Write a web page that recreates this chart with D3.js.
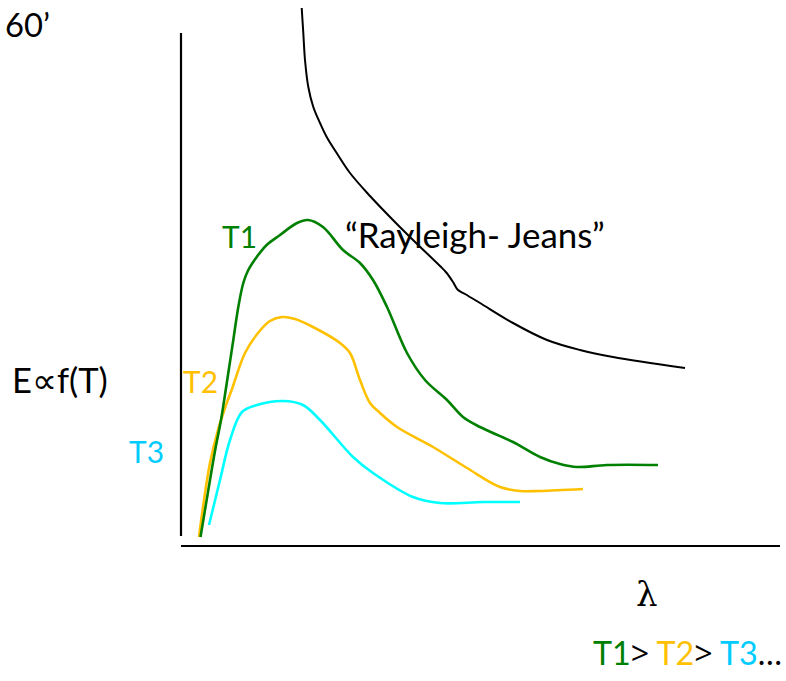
<!DOCTYPE html>
<html>
<head>
<meta charset="utf-8">
<script src="https://cdn.jsdelivr.net/npm/d3@7"></script>
<style>
  html, body { margin: 0; padding: 0; background: #fff; }
  svg { display: block; }
  text { font-family: Lato, "Noto Sans", sans-serif; }
</style>
</head>
<body>
<div id="chart"></div>
<script>
// ---- data (λ and E in chart units) ----
const seriesNames = ["T1", "T2", "T3", "Rayleigh- Jeans"];
const t1Lambda = [19.5, 27, 34, 40, 44.7, 47.3, 52.3, 57.3, 62.3, 67.3, 75.7, 85.7, 99, 116, 127, 142, 162, 179, 192, 206, 226, 244, 266, 282, 299, 332, 359, 379, 396, 426, 477];
const t1E      = [9, 54, 95, 126, 156, 173, 206, 239, 263, 276, 289, 301, 311, 323, 326, 319, 296, 283, 266, 239, 193, 166, 146, 129, 119, 104, 89, 82, 79, 81, 81];
const t2Lambda = [18, 23, 29, 37, 44, 51, 64, 77, 89, 101, 114, 132, 159, 169, 179, 189, 199, 216, 252, 286, 319, 339, 359, 402];
const t2E      = [9, 46, 83, 116, 138, 157, 193, 213, 225, 229, 227, 219, 203, 193, 166, 143, 133, 119, 99, 78, 59, 55, 55, 57];
const t3Lambda = [28, 39, 49, 61, 76, 102, 122, 139, 172, 192, 232, 259, 302, 339];
const t3E      = [21, 66, 106, 134, 141, 145, 141, 126, 89, 73, 49, 43, 44, 44];
const rjLambda = [120.7, 122.3, 124, 127.3, 132.3, 139, 145.7, 155.7, 169, 189, 209, 232, 259, 265.7, 272, 277, 284, 299, 332, 366, 399, 432, 504];
const rjE      = [538, 513, 486, 459, 439, 423, 409, 393, 373, 350, 329, 306, 280, 273, 264, 256, 252, 243, 223, 206, 196, 189, 178];
const orderLabel = ["T1", ">", " T2", ">", " T3", "…"];

const colors = { T1: "#008000", T2: "#FFC000", T3: "#00FFFF", T3text: "#00CCFF", RJ: "#000000" };

const W = 786, H = 681;
const svg = d3.select("#chart").append("svg").attr("width", W).attr("height", H);

const x = d3.scaleLinear().domain([0, 600]).range([181, 781]);
const y = d3.scaleLinear().domain([0, 546]).range([546, 0]);

// axes (plain lines, no ticks)
const xAxis = d3.axisBottom(x).tickValues([]).tickSizeOuter(0);
const yAxis = d3.axisLeft(y).tickValues([]).tickSizeOuter(0);
svg.append("g").attr("transform", `translate(0,${y(0)})`).call(xAxis)
  .select(".domain").attr("stroke", "#000").attr("stroke-width", 2.2).attr("d", `M${x(0)},0H${x(599)}`);
svg.append("g").attr("transform", `translate(${x(0)},0)`).call(yAxis)
  .select(".domain").attr("stroke", "#000").attr("stroke-width", 2.2).attr("d", `M0,${y(10)}V${y(513)}`);

const line = d3.line().x(d => x(d[0])).y(d => y(d[1])).curve(d3.curveCatmullRom.alpha(0.5));
const zip = (a, b) => a.map((v, i) => [v, b[i]]);

svg.append("path").datum(zip(rjLambda, rjE)).attr("d", line)
  .attr("fill", "none").attr("stroke", colors.RJ).attr("stroke-width", 2);
svg.append("path").datum(zip(t3Lambda, t3E)).attr("d", line)
  .attr("fill", "none").attr("stroke", colors.T3).attr("stroke-width", 2.6);
svg.append("path").datum(zip(t2Lambda, t2E)).attr("d", line)
  .attr("fill", "none").attr("stroke", colors.T2).attr("stroke-width", 2.6);
svg.append("path").datum(zip(t1Lambda, t1E)).attr("d", line)
  .attr("fill", "none").attr("stroke", colors.T1).attr("stroke-width", 2.6);

// texts
function fit(t, size, target) {
  const w = t.node().getComputedTextLength();
  if (target && w > 0) t.attr("font-size", size * target / w);
  return t;
}
function label(txt, px, py, size, color, target, family) {
  const t = svg.append("text").attr("x", px).attr("y", py).attr("font-size", size)
    .attr("fill", color).text(txt);
  if (family) t.style("font-family", family);
  return fit(t, size, target);
}
label("60’", 5, 37, 32, "#000", 45);
label("E∝f(T)", 12, 393, 30, "#000", 95);
label(seriesNames[0], 222, 248, 31, colors.T1, 35);
label("“" + seriesNames[3] + "”", 345, 248, 31, "#000", 260);
label(seriesNames[1], 183, 393, 31, colors.T2, 35);
label(seriesNames[2], 129, 463, 31, colors.T3text, 35);
label("λ", 636, 606, 34, "#000", null, "'DejaVu Serif', 'Liberation Serif', serif");

const ord = svg.append("text").attr("x", 593).attr("y", 665).attr("font-size", 31);
const ordColors = [colors.T1, "#000", colors.T2, "#000", colors.T3text, "#000"];
orderLabel.forEach((s, i) => {
  const ts = ord.append("tspan").attr("fill", ordColors[i]).text(s);
  if (s === ">") ts.style("font-family", "'Open Sans', 'Noto Sans', sans-serif");
});
fit(ord, 31, 189);
</script>
</body>
</html>
